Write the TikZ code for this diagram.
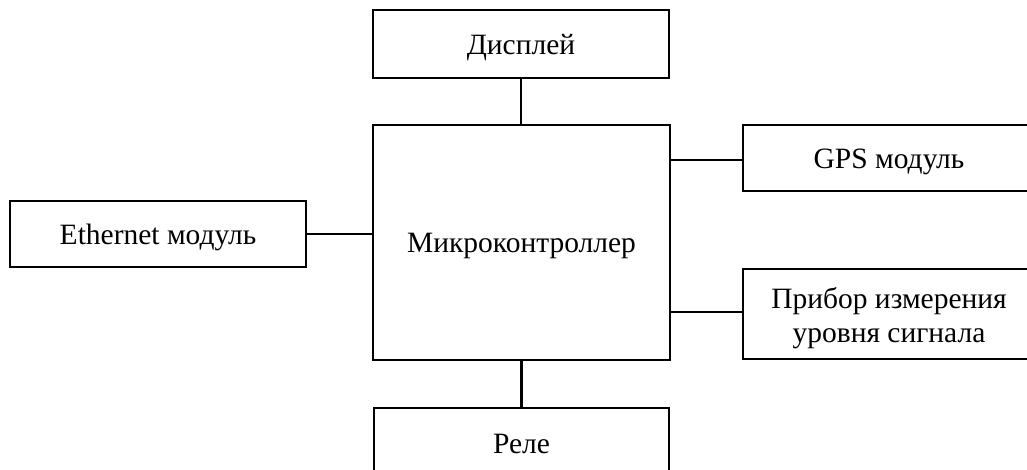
\documentclass[tikz,border=0pt]{standalone}
\usepackage{fontspec}
\setmainfont{Liberation Serif}
\begin{document}
\begin{tikzpicture}[x=1pt,y=-1pt,
  blk/.style={draw=black,line width=2.8pt,rectangle,inner sep=0pt,align=center,
    font=\fontsize{29.5}{34}\selectfont},
  one/.style={text height=21pt,text depth=0pt},
  two/.style={text height=56pt,text depth=0pt},
  conn/.style={draw=black,line width=2.8pt}]
\useasboundingbox (0,0) rectangle (1027,470);
\clip (0,0) rectangle (1027,470);
\node[blk,one,minimum width=296pt,minimum height=68pt] (disp) at (521,44) {Дисплей};
\node[blk,one,minimum width=297pt,minimum height=235pt] (mcu) at (521.5,242.5) {Микроконтроллер};
\node[blk,one,minimum width=295pt,minimum height=70pt] (rele) at (521.5,443) {Реле};
\node[blk,one,minimum width=292pt,minimum height=66pt] (gps) at (889,158) {GPS модуль};
\node[blk,two,minimum width=292pt,minimum height=90pt] (prib) at (889,314) {Прибор измерения\\уровня сигнала};
\node[blk,one,minimum width=296pt,minimum height=66pt] (eth) at (158,234) {Ethernet модуль};
\draw[conn] (disp.south) -- (disp.south |- mcu.north);
\draw[conn] (mcu.south -| rele.north) -- (rele.north);
\draw[conn] (mcu.east |- 0,160) -- (gps.west |- 0,160);
\draw[conn] (mcu.east |- 0,312) -- (prib.west |- 0,312);
\draw[conn] (eth.east) -- (eth.east -| mcu.west);
\end{tikzpicture}
\end{document}
